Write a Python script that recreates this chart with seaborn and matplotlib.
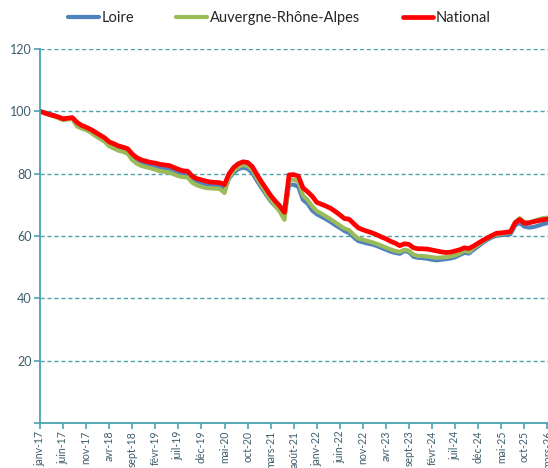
import numpy as np
import pandas as pd
import seaborn as sns
import matplotlib.pyplot as plt

# mois francais
mois = ['janv', 'févr', 'mars', 'avr', 'mai', 'juin', 'juil', 'août', 'sept', 'oct', 'nov', 'déc']
labels = [f"{mois[i % 12]}-{17 + i // 12}" for i in range(111)]

loire = [100.0, 99.6, 99.2, 98.8, 98.0, 97.4, 97.6, 97.8, 95.6, 94.8,
         94.3, 93.5, 92.4, 91.6, 90.8, 89.4, 88.8, 88.1, 87.8, 87.2,
         85.4, 84.2, 83.5, 83.1, 82.7, 82.5, 82.1, 81.8, 81.5, 80.9,
         80.2, 79.8, 79.7, 78.0, 77.2, 76.8, 76.4, 76.2, 76.1, 76.0,
         75.2, 78.5, 80.3, 81.5, 81.9, 81.6, 80.3, 77.8, 75.5, 73.3,
         71.2, 69.6, 68.2, 66.3, 76.4, 76.5, 75.8, 71.6, 70.4, 68.2,
         67.0, 66.2, 65.4, 64.5, 63.5, 62.6, 61.6, 61.0, 59.6, 58.4,
         58.0, 57.6, 57.3, 56.8, 56.2, 55.6, 55.0, 54.6, 54.3, 55.2,
         54.8, 53.3, 53.0, 52.9, 52.7, 52.4, 52.2, 52.4, 52.6, 52.8,
         53.2, 53.9, 54.6, 54.4, 55.6, 56.7, 57.8, 58.8, 59.6, 60.1,
         60.3, 60.4, 60.6, 63.4, 64.2, 63.0, 62.7, 62.9, 63.3, 63.8, 64.1]

ara = [100.0, 99.4, 98.9, 98.4, 97.8, 97.2, 97.4, 97.6, 95.2, 94.5,
       94.0, 93.2, 92.1, 91.2, 90.3, 88.8, 88.1, 87.4, 87.0, 86.4,
       84.4, 83.2, 82.5, 82.1, 81.7, 81.3, 80.8, 80.6, 80.4, 79.8,
       79.2, 78.9, 78.8, 77.1, 76.3, 75.8, 75.4, 75.3, 75.2, 75.1,
       73.8, 78.8, 80.9, 82.2, 82.8, 82.5, 81.2, 78.6, 76.2, 73.8,
       71.6, 69.7, 67.8, 65.2, 78.0, 78.1, 77.5, 73.0, 71.6, 69.6,
       68.0, 67.2, 66.3, 65.4, 64.4, 63.4, 62.4, 61.9, 60.4, 59.2,
       58.8, 58.4, 58.0, 57.5, 56.9, 56.3, 55.7, 55.2, 54.9, 55.6,
       55.3, 54.0, 53.6, 53.6, 53.4, 53.2, 53.0, 53.1, 53.2, 53.4,
       53.8, 54.4, 55.3, 54.9, 56.2, 57.2, 58.2, 59.2, 60.0, 60.5,
       60.7, 60.9, 61.2, 64.5, 65.7, 64.5, 64.3, 64.8, 65.3, 65.7, 65.9]

national = [100.0, 99.5, 99.0, 98.6, 98.2, 97.6, 97.8, 98.0, 96.5, 95.5,
            94.9, 94.2, 93.3, 92.4, 91.5, 90.2, 89.6, 88.9, 88.5, 88.0,
            86.3, 85.1, 84.4, 84.0, 83.6, 83.4, 83.0, 82.8, 82.6, 82.0,
            81.4, 80.9, 80.8, 79.2, 78.4, 78.0, 77.6, 77.3, 77.2, 77.1,
            76.5, 80.0, 82.0, 83.2, 83.8, 83.6, 82.3, 79.8, 77.4, 75.2,
            73.0, 71.2, 69.6, 67.6, 79.6, 79.7, 79.2, 75.5, 74.2, 72.8,
            70.8, 70.2, 69.6, 68.9, 67.9, 66.8, 65.6, 65.4, 64.0, 62.6,
            62.0, 61.5, 61.0, 60.4, 59.7, 59.1, 58.3, 57.7, 56.9, 57.5,
            57.3, 56.2, 55.9, 55.9, 55.8, 55.5, 55.2, 54.9, 54.7, 54.8,
            55.2, 55.6, 56.2, 56.0, 56.8, 57.7, 58.6, 59.4, 60.2, 60.9,
            61.0, 61.2, 61.4, 64.2, 65.3, 64.1, 64.2, 64.6, 64.9, 65.2, 65.4]

df = pd.DataFrame({'m': np.arange(111), 'Loire': loire,
                   'Auvergne-Rhône-Alpes': ara, 'National': national})

sns.set_style('white')
plt.rcParams['font.family'] = ['Lato', 'DejaVu Sans']

teal = '#4BA3B0'
txt = '#3E5E6C'

fig = plt.figure(figsize=(5.48, 4.68), dpi=100)
ax = fig.add_axes([40 / 548, 45 / 468, 512 / 548, 374 / 468])

sns.lineplot(data=df, x='m', y='Loire', color='#4F81BD', linewidth=3.0, label='Loire', ax=ax)
sns.lineplot(data=df, x='m', y='Auvergne-Rhône-Alpes', color='#9BBB59', linewidth=3.0,
             label='Auvergne-Rhône-Alpes', ax=ax)
sns.lineplot(data=df, x='m', y='National', color='#FF0000', linewidth=3.4, label='National', ax=ax)

ax.set_xlim(0, 111)
ax.set_ylim(0, 120)
ax.set_yticks(range(0, 121, 20))
ax.set_yticklabels(['', '20', '40', '60', '80', '100', '120'])
ax.set_xticks(range(0, 111, 5))
ax.set_xticklabels(labels[::5], rotation=90)
ax.set_xlabel('')
ax.set_ylabel('')

for y in range(20, 121, 20):
    ax.axhline(y, color=teal, linestyle=(0, (3, 2)), linewidth=1.0, zorder=0)

for s in ['top', 'right']:
    ax.spines[s].set_visible(False)
for s in ['left', 'bottom']:
    ax.spines[s].set_color(teal)
    ax.spines[s].set_linewidth(1.3)

ax.tick_params(axis='both', colors=teal, labelcolor=txt, labelsize=9,
               direction='out', length=4, width=1.2, left=True, bottom=True, pad=2)
ax.tick_params(axis='x', labelsize=7.6, pad=1.5)

ax.get_legend().remove()
h, l = ax.get_legend_handles_labels()
fig.legend(h, l, loc='upper center', bbox_to_anchor=(0.51, 1.005), ncol=3, frameon=False,
           fontsize=10.5, handlelength=2.1, handletextpad=0.2, columnspacing=2.9,
           labelcolor='#262626')

fig.savefig('out.png', dpi=100)
